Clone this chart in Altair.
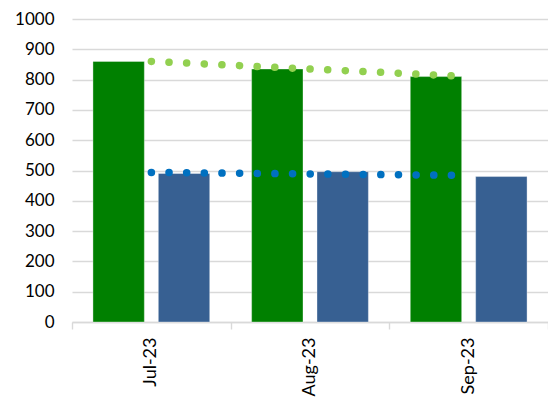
import altair as alt
import pandas as pd

months = ["Jul-23", "Aug-23", "Sep-23"]
month_idx = [1, 2, 3]
series = ["A", "B"]
values_a = [860, 835, 810]
values_b = [490, 496, 480]
y_ticks = [0, 100, 200, 300, 400, 500, 600, 700, 800, 900, 1000]
boundaries = [0.5, 1.5, 2.5, 3.5]

rows = []
for m, i, a, b in zip(months, month_idx, values_a, values_b):
    rows.append({"month": m, "idx": i, "series": "A", "value": a})
    rows.append({"month": m, "idx": i, "series": "B", "value": b})
df = pd.DataFrame(rows)

FONT = "Lato"

yscale = alt.Scale(domain=[0, 1000])
yaxis = alt.Axis(values=y_ticks, format="d", ticks=False, tickSize=0, domain=False,
                 grid=True, gridColor="#d9d9d9", gridWidth=1.4,
                 labelFontSize=17, labelFont=FONT, labelColor="#000000",
                 labelPadding=18)

bars = alt.Chart(df).mark_bar(stroke="#ffffff", strokeWidth=0.6, strokeOpacity=0.6).encode(
    x=alt.X("month:N", sort=months, title=None,
            scale=alt.Scale(paddingInner=0.264, paddingOuter=0.132),
            axis=alt.Axis(orient="bottom", labelAngle=-90, ticks=False, domain=False, grid=False,
                          labelFontSize=18, labelFont=FONT, labelColor="#000000",
                          labelPadding=15)),
    xOffset=alt.XOffset("series:N", scale=alt.Scale(paddingInner=0.214, paddingOuter=0)),
    y=alt.Y("value:Q", scale=yscale, title=None, axis=yaxis),
    color=alt.Color("series:N", scale=alt.Scale(domain=series, range=["#008000", "#376092"]),
                    legend=None),
)

trend = alt.Chart(df).transform_regression(
    "idx", "value", groupby=["series"], extent=[1, 3]
).mark_line(strokeWidth=7.5, strokeCap="round", strokeDash=[0.1, 17.55]).encode(
    x=alt.X("idx:Q", scale=alt.Scale(domain=[0.5, 3.5], nice=False, zero=False), title=None,
            axis=alt.Axis(orient="bottom", values=boundaries, labels=False, ticks=True, tickSize=7,
                          tickColor="#d9d9d9", tickWidth=1.4, domain=True,
                          domainColor="#d9d9d9", domainWidth=1.4, grid=False)),
    y=alt.Y("value:Q", scale=yscale, title=None, axis=yaxis),
    color=alt.Color("series:N", scale=alt.Scale(domain=series, range=["#92D050", "#0070C0"]),
                    legend=None),
)

chart = alt.layer(bars, trend).resolve_scale(x="independent", color="independent").resolve_axis(
    x="independent"
).properties(
    width=476, height=303,
    autosize=alt.AutoSizeParams(type="none"),
    padding={"left": 64, "top": 11, "right": 0, "bottom": 80},
).configure_view(stroke=None)

chart.save("out.html", embed_options={"renderer": "svg", "actions": False})
